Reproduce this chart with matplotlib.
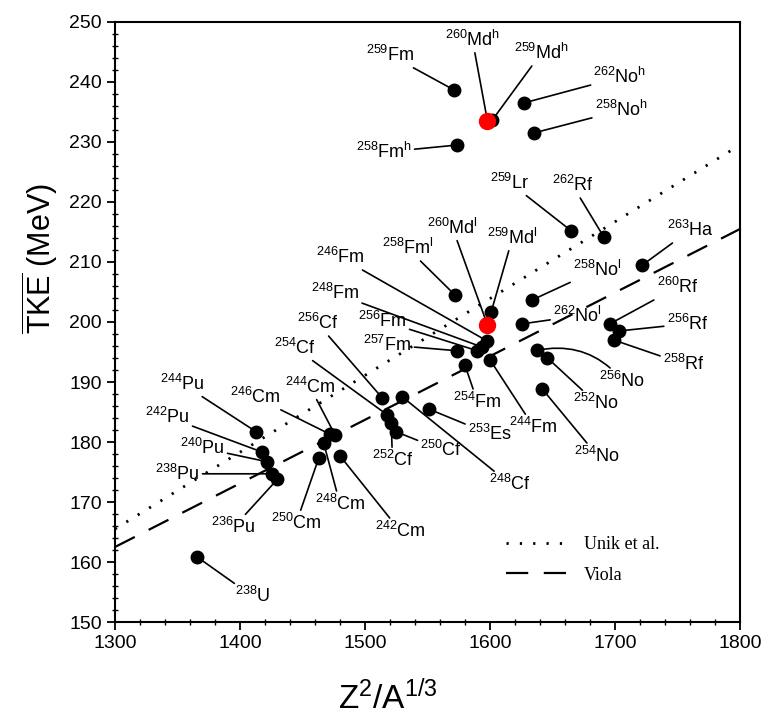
import matplotlib
matplotlib.use("Agg")
from matplotlib import pyplot as plt
import numpy as np

plt.rcParams['font.family'] = ['Liberation Sans', 'DejaVu Sans']
plt.rcParams['mathtext.fontset'] = 'custom'
plt.rcParams['mathtext.rm'] = 'Liberation Sans'
plt.rcParams['mathtext.it'] = 'Liberation Sans:italic'
plt.rcParams['mathtext.bf'] = 'Liberation Sans:bold'

# nuclide labels, Z^2/A^(1/3), mean TKE (MeV)
labels = [
    r'$^{259}$Fm', r'$^{260}$Md$^{\mathrm{h}}$', r'$^{259}$Md$^{\mathrm{h}}$', r'$^{262}$No$^{\mathrm{h}}$',
    r'$^{258}$No$^{\mathrm{h}}$', r'$^{258}$Fm$^{\mathrm{h}}$', r'$^{259}$Lr', r'$^{262}$Rf', r'$^{263}$Ha',
    r'$^{258}$Fm$^{\mathrm{l}}$', r'$^{260}$Md$^{\mathrm{l}}$', r'$^{259}$Md$^{\mathrm{l}}$',
    r'$^{246}$Fm', r'$^{248}$Fm', r'$^{256}$Fm', r'$^{257}$Fm', r'$^{256}$Cf', r'$^{254}$Cf',
    r'$^{246}$Cm', r'$^{244}$Cm', r'$^{244}$Pu', r'$^{242}$Pu', r'$^{240}$Pu', r'$^{238}$Pu', r'$^{236}$Pu',
    r'$^{250}$Cm', r'$^{248}$Cm', r'$^{242}$Cm', r'$^{252}$Cf', r'$^{250}$Cf', r'$^{248}$Cf', r'$^{253}$Es',
    r'$^{254}$Fm', r'$^{244}$Fm', r'$^{256}$No', r'$^{252}$No', r'$^{254}$No',
    r'$^{258}$No$^{\mathrm{l}}$', r'$^{262}$No$^{\mathrm{l}}$', r'$^{260}$Rf', r'$^{256}$Rf', r'$^{258}$Rf',
    r'$^{238}$U',
]
z2a = [1571, 1598, 1602, 1627, 1635, 1574, 1665, 1691, 1722,
       1572, 1598, 1601, 1598, 1594, 1590, 1574, 1514, 1518,
       1472, 1476, 1413, 1418, 1422, 1426, 1430,
       1463, 1467, 1480, 1521, 1525, 1530, 1551,
       1580, 1600, 1638, 1646, 1642,
       1634, 1626, 1696, 1703, 1699, 1366]
tke = [238.7, 233.5, 233.7, 236.5, 231.5, 229.5, 215.2, 214.2, 209.5,
       204.5, 199.5, 201.7, 196.8, 195.8, 195.2, 195.2, 187.3, 184.5,
       181.3, 181.2, 181.7, 178.3, 176.7, 174.7, 173.8,
       177.3, 179.8, 177.7, 183.2, 181.7, 187.5, 185.5,
       192.8, 193.7, 195.3, 194.0, 188.8,
       203.7, 199.7, 199.7, 198.5, 197.0, 160.8]
is_red = [False, True, False, False, False, False, False, False, False,
          False, True, False] + [False] * 31

# where each label sits (data coordinates)
label_x = [1520, 1586, 1641, 1704, 1705, 1515, 1616, 1666, 1760,
           1534, 1570, 1618, 1480, 1476, 1514, 1518, 1462, 1444,
           1412, 1456, 1354, 1342, 1370, 1350, 1395,
           1445, 1480, 1528, 1522, 1561, 1616, 1600,
           1590, 1635, 1706, 1685, 1686,
           1686, 1670, 1750, 1758, 1755, 1410]
label_y = [244.5, 247.0, 244.8, 240.8, 235.3, 228.3, 223.2, 222.8, 215.3,
           212.3, 215.7, 214.0, 210.8, 204.8, 200.2, 196.2, 199.8, 195.7,
           187.5, 189.2, 189.7, 184.2, 179.0, 174.7, 165.8,
           166.5, 169.7, 165.2, 177.0, 178.7, 173.0, 181.3,
           186.7, 182.5, 190.2, 186.5, 177.7,
           208.7, 201.0, 205.8, 199.7, 193.0, 154.3]

# systematics lines
fit_x = [1300, 1800]
unik_y = [165.5, 229.5]
viola_y = [162.5, 215.5]

fig = plt.figure(figsize=(7.68, 7.21), dpi=100)
ax = fig.add_axes([0.1497, 0.1373, 0.8138, 0.8322])

ax.plot(fit_x, unik_y, color='black', lw=2.0, linestyle=(0, (0.8, 4.0)), label='Unik et al.')
ax.plot(fit_x, viola_y, color='black', lw=1.6, linestyle=(0, (10, 7)), label='Viola')

for lab, x, y, lx, ly, red in zip(labels, z2a, tke, label_x, label_y, is_red):
    cs = 'arc3,rad=0.3' if lab == r'$^{256}$No' else 'arc3'
    ax.annotate(lab, xy=(x, y), xytext=(lx, ly), ha='center', va='center', fontsize=13,
                arrowprops=dict(arrowstyle='-', lw=1.2, color='black', shrinkA=0, shrinkB=0,
                                connectionstyle=cs), zorder=3)

# black dots first, red ones on top
bx = [x for x, r in zip(z2a, is_red) if not r]
by = [y for y, r in zip(tke, is_red) if not r]
rx = [x for x, r in zip(z2a, is_red) if r]
ry = [y for y, r in zip(tke, is_red) if r]
ax.plot(bx, by, 'o', color='black', markersize=9, zorder=4)
ax.plot(rx, ry, 'o', color='#ff0000', markersize=11.5, zorder=5)

ax.set_xlim(1300, 1800)
ax.set_ylim(150, 250)
ax.set_xticks(np.arange(1300, 1801, 100))
ax.set_yticks(np.arange(150, 251, 10))
ax.set_xticks(np.arange(1300, 1801, 20), minor=True)
ax.set_yticks(np.arange(150, 251, 2), minor=True)
ax.tick_params(which='major', direction='out', length=6, width=1.3, labelsize=14)
ax.tick_params(which='minor', direction='inout', length=5, width=1.0)
for s in ax.spines.values():
    s.set_linewidth(1.5)

leg = ax.legend(loc='upper left', bbox_to_anchor=(0.6, 0.17), frameon=False,
                handlelength=3.4, labelspacing=0.75, handletextpad=0.9,
                prop={'family': 'Liberation Serif', 'size': 13})

fig.text(388 / 768, 1 - 698 / 721, r'Z$^2$/A$^{1/3}$', ha='center', va='center', fontsize=24)
fig.text(40 / 768, 1 - 258 / 721, r'$\overline{\mathrm{TKE}}$ (MeV)', ha='center', va='center',
         rotation=90, fontsize=22)

plt.savefig("out.png", dpi=100)
